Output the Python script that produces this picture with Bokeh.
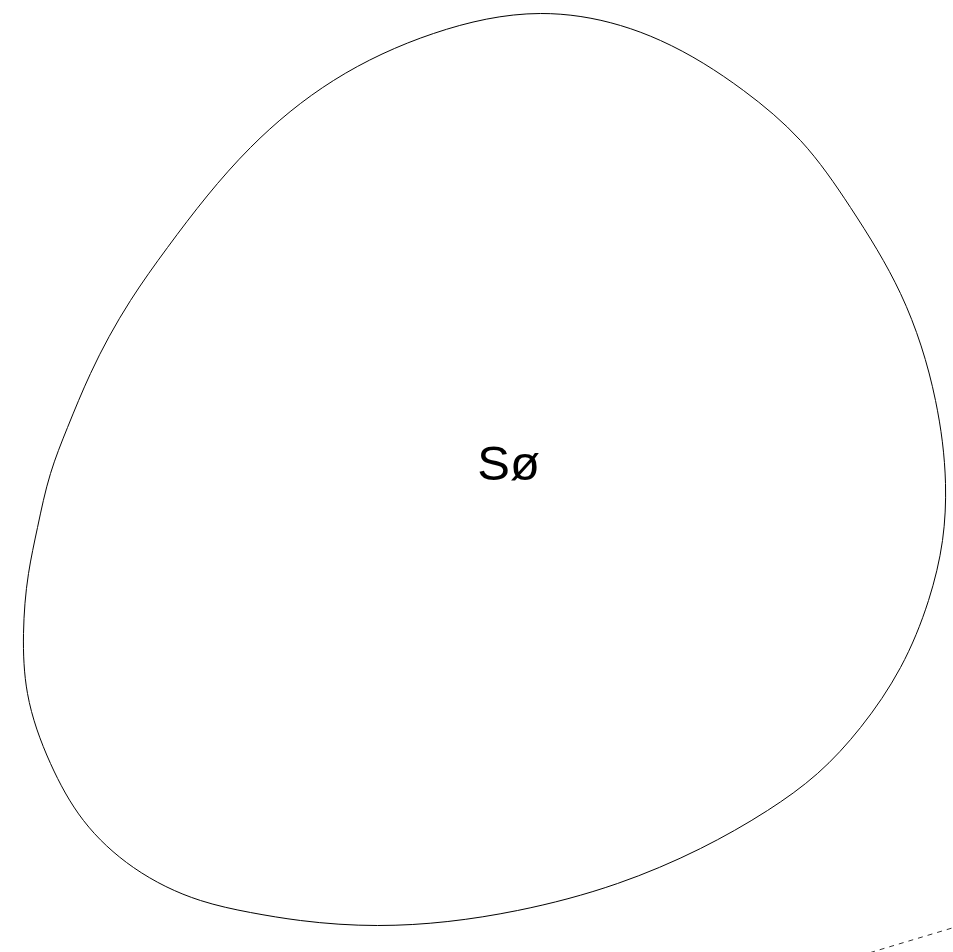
import numpy as np
from bokeh.plotting import figure
from bokeh.models import Range1d
from bokeh.core.properties import value
from bokeh.embed import file_html
from bokeh.resources import INLINE

# Outline of the region (clockwise from the top)
outline_x = [540, 620, 660, 743, 800, 850, 900, 935, 945, 942, 928, 900, 860, 817,
             767, 700, 617, 517, 377, 300, 250, 200, 133, 83, 50, 27, 23, 28,
             37, 50, 67, 90, 130, 167, 250, 333, 433]
outline_y = [13, 25, 40, 90, 140, 207, 293, 400, 483, 540, 600, 667, 727, 773,
             810, 848, 883, 910, 925, 920, 912, 900, 867, 820, 763, 693, 633, 573,
             527, 473, 427, 373, 300, 247, 147, 80, 33]

label_text = ["Sø"]
label_x = [508]
label_y = [462]

dash_x = [860, 960]
dash_y = [955, 925]

W, H = 953, 952
p = figure(width=W, height=H, output_backend="svg", toolbar_location=None,
           x_range=Range1d(0, W), y_range=Range1d(H, 0),
           min_border=0, outline_line_color=None)
p.axis.visible = False
p.grid.visible = False
p.background_fill_color = "white"
p.border_fill_color = "white"

# closed C2 cubic spline through outline points (chord-length knots),
# drawn as Bezier segments
P = np.column_stack([outline_x, outline_y]).astype(float)
n = len(P)
h = np.linalg.norm(np.roll(P, -1, axis=0) - P, axis=1)  # h[i]: interval i -> i+1
A = np.zeros((n, n))
R = np.zeros((n, 2))
for i in range(n):
    a = h[i - 1]          # interval before i
    b = h[i]              # interval after i
    A[i, (i - 1) % n] += b
    A[i, i] += 2 * (a + b)
    A[i, (i + 1) % n] += a
    da = (P[i] - P[i - 1]) / a
    db = (P[(i + 1) % n] - P[i]) / b
    R[i] = 3 * (b * da + a * db)
D = np.linalg.solve(A, R)
P1 = np.roll(P, -1, axis=0)
D1 = np.roll(D, -1, axis=0)
C0 = P + D * h[:, None] / 3
C1 = P1 - D1 * h[:, None] / 3
p.bezier(x0=P[:, 0], y0=P[:, 1], x1=P1[:, 0], y1=P1[:, 1],
         cx0=C0[:, 0], cy0=C0[:, 1], cx1=C1[:, 0], cy1=C1[:, 1],
         line_color="#000000", line_width=1)

p.line(dash_x, dash_y, line_color="#333333", line_width=1, line_dash="5 5")

p.text(x=label_x, y=label_y, text=label_text, text_align="center",
       text_baseline="alphabetic", text_font=value("Liberation Sans"),
       text_font_size="49px", text_color="#000000")

open("out.html", "w").write(file_html(p, INLINE))
